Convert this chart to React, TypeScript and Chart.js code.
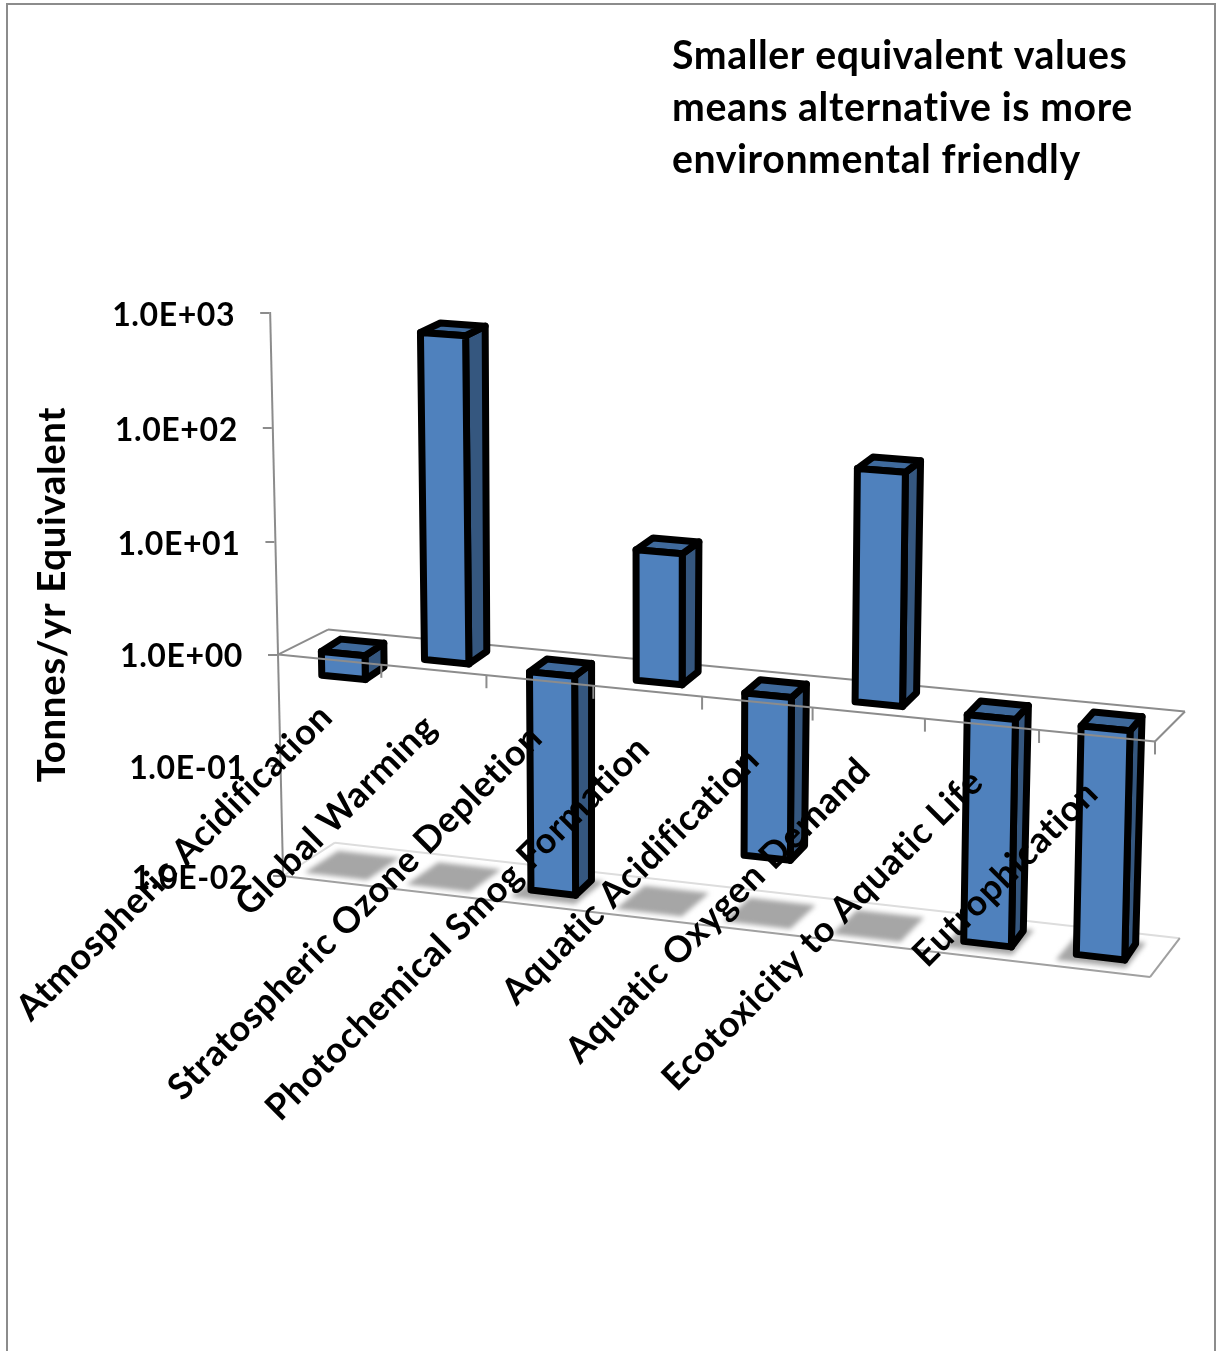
import React, { useEffect, useRef } from "react";
import { Chart, BarController, BarElement, CategoryScale, LogarithmicScale } from "chart.js";

// Impact categories and yearly equivalents, plotted around a baseline of 1.
const categories = [
  "Atmospheric Acidification",
  "Global Warming",
  "Stratospheric Ozone Depletion",
  "Photochemical Smog Formation",
  "Aquatic Acidification",
  "Aquatic Oxygen Demand",
  "Ecotoxicity to Aquatic Life",
  "Eutrophication",
];
const equivalents = [0.6, 750, 0.011, 14, 0.037, 100, 0.0107, 0.0107];
const yTickValues = [0.01, 0.1, 1, 10, 100, 1000];
const yAxisTitle = "Tonnes/yr Equivalent";
const noteLines = [
  "Smaller equivalent values",
  "means alternative is more",
  "environmental friendly",
];

const WIDTH = 1219;
const HEIGHT = 1351;
const AREA = { left: 278, right: 1155, top: 313, bottom: 876 };
const BASE_Y = 654;
const FONT = "Lato, Carlito, sans-serif";

const FACE_FRONT = "#4F81BD";
const FACE_SIDE = "#35577F";
const FACE_TOP = "#3F6A9C";
const AXIS_GREY = "#8C8C8C";

// Horizontal perspective: columns spread out toward the right of the floor.
const warp = (x: number) => x + 7.5e-5 * (x - AREA.left) * (x - AREA.right);

// Maps a scale position (plus a depth fraction into the box) onto the canvas.
function project(x: number, y: number, depth = 0): [number, number] {
  const u = warp(x);
  const t = (u - AREA.left) / (AREA.right - AREA.left);
  const px = u + 5.2e-5 * (720 - u) * (y - BASE_Y);
  const py = y + (u - AREA.left) * (0.099 + 7.3e-5 * (y - BASE_Y));
  const dx = (50 - 20 * t - (y - BASE_Y) * 0.013) * depth;
  const dy = (-25 - 5 * t - (y - BASE_Y) * 0.024) * depth;
  return [px + dx, py + dy];
}

function polygon(ctx: CanvasRenderingContext2D, pts: [number, number][]) {
  ctx.beginPath();
  pts.forEach((p, i) => (i ? ctx.lineTo(p[0], p[1]) : ctx.moveTo(p[0], p[1])));
  ctx.closePath();
}

function line(ctx: CanvasRenderingContext2D, a: [number, number], b: [number, number]) {
  ctx.beginPath();
  ctx.moveTo(a[0], a[1]);
  ctx.lineTo(b[0], b[1]);
  ctx.stroke();
}

// Log axis leaning with the box: slightly compressed toward the bottom.
class SlantLogScale extends LogarithmicScale {
  static id = "slantLog";
  static defaults = LogarithmicScale.defaults;

  getPixelForDecimal(d: number) {
    return super.getPixelForDecimal(d - 0.028 * d * (1 - d));
  }
  withLean(draw: () => void) {
    const ctx = this.ctx;
    ctx.save();
    ctx.transform(1, 0, 0.023, 1, -0.023 * BASE_Y, 0);
    draw();
    ctx.restore();
  }
  drawGrid(area: any) {
    this.withLean(() => super.drawGrid(area));
  }
  drawBorder() {
    this.withLean(() => super.drawBorder());
  }
  _computeLabelArea() {
    return undefined;
  }
  getLabelItems(area?: any) {
    const items: any = super.getLabelItems(area);
    if (!items.leaned) {
      items.forEach((item: any) => {
        const tr = item.options.translation;
        tr[0] += 0.023 * (tr[1] - BASE_Y);
        tr[1] += 2.5;
      });
      items.leaned = true;
    }
    return items;
  }
}

// Category axis whose rotated labels follow the receding front edge.
class SkewCategoryScale extends CategoryScale {
  static id = "skewCategory";
  static defaults = CategoryScale.defaults;

  _computeLabelArea() {
    return undefined;
  }
  getLabelItems(area?: any) {
    const items: any = super.getLabelItems(area);
    if (!items.skewed) {
      items.forEach((item: any) => {
        const tr = item.options.translation;
        const u = warp(tr[0]);
        tr[0] = u - 4;
        tr[1] = 692 + (u - AREA.left) * 0.1;
      });
      items.skewed = true;
    }
    return items;
  }
}

Chart.register(BarController, BarElement, SlantLogScale, SkewCategoryScale);

const FRONT_DEPTH = 0.28;
const BACK_DEPTH = 0.67;
const CAP_LIFT = 2.5;

function drawColumn(ctx: CanvasRenderingContext2D, el: any) {
  const xl = el.x - el.width / 2;
  const xr = el.x + el.width / 2;
  const top = Math.min(el.y, el.base);
  const bottom = Math.max(el.y, el.base);
  const lifted = (p: [number, number]): [number, number] => [p[0], p[1] - CAP_LIFT];
  const fl = (y: number) => project(xl, y, FRONT_DEPTH);
  const fr = (y: number) => project(xr, y, FRONT_DEPTH);
  const bl = (y: number) => lifted(project(xl, y, BACK_DEPTH));
  const br = (y: number) => lifted(project(xr, y, BACK_DEPTH));
  ctx.save();
  ctx.strokeStyle = "#000";
  ctx.lineWidth = 7;
  ctx.lineJoin = "round";
  const faces: [[number, number][], string][] = [
    [[fr(top), br(top), br(bottom), fr(bottom)], FACE_SIDE],
    [[fl(top), bl(top), br(top), fr(top)], FACE_TOP],
    [[fl(top), fr(top), fr(bottom), fl(bottom)], FACE_FRONT],
  ];
  faces.forEach(([pts, fill]) => {
    polygon(ctx, pts);
    ctx.fillStyle = fill;
    ctx.fill();
    ctx.stroke();
  });
  ctx.restore();
}

const boxPlugin = {
  id: "box",
  beforeDraw(chart: any) {
    const ctx = chart.ctx;
    // Slight tracking for every label; it also keeps ligatures from forming.
    ctx.letterSpacing = "0.6px";
    ctx.save();
    ctx.fillStyle = "#fff";
    ctx.fillRect(0, 0, WIDTH, HEIGHT);
    ctx.strokeStyle = AXIS_GREY;
    ctx.lineWidth = 2;
    ctx.strokeRect(7, 4, 1208, 1500);
    ctx.font = `bold 39.2px ${FONT}`;
    ctx.fillStyle = "#000";
    ctx.textBaseline = "alphabetic";
    noteLines.forEach((text, i) => ctx.fillText(text, 672, 69 + i * 52));
    ctx.restore();
  },
  beforeDatasetsDraw(chart: any) {
    const ctx = chart.ctx;
    const { left, right } = chart.chartArea;
    const y = chart.scales.y;
    const floorY = y.getPixelForValue(yTickValues[0]);
    const planeY = y.getPixelForValue(1);
    const floorDepth = 1.1;
    ctx.save();
    // Column shadows on the floor.
    ctx.filter = "blur(2.5px)";
    ctx.fillStyle = "#A6A6A6";
    chart.getDatasetMeta(0).data.forEach((el: any) => {
      const half = (el.width / 2) * 1.45;
      const cx = el.x - 6;
      polygon(ctx, [
        project(cx - half, floorY, 0.16),
        project(cx + half, floorY, 0.16),
        project(cx + half, floorY, 0.88),
        project(cx - half, floorY, 0.88),
      ]);
      ctx.fill();
    });
    ctx.filter = "none";
    // Floor outline.
    ctx.lineWidth = 2;
    ctx.strokeStyle = "#DDDDDD";
    line(ctx, project(left, floorY), project(left, floorY, floorDepth));
    line(ctx, project(left, floorY, floorDepth), project(right, floorY, floorDepth));
    ctx.strokeStyle = "#A0A0A0";
    line(ctx, project(left, floorY), project(right, floorY));
    line(ctx, project(right, floorY), project(right, floorY, floorDepth));
    // Rear and side edges of the plane through 1.0E+00.
    ctx.strokeStyle = AXIS_GREY;
    line(ctx, project(left, planeY), project(left, planeY, 1));
    line(ctx, project(left, planeY, 1), project(right, planeY, 1));
    line(ctx, project(right, planeY), project(right, planeY, 1));
    ctx.restore();
  },
  beforeDatasetDraw(chart: any, args: any) {
    const ctx = chart.ctx;
    args.meta.data.forEach((el: any) => drawColumn(ctx, el));
    return false;
  },
  afterDatasetsDraw(chart: any) {
    // Front edge of the plane and its category tick marks run over the columns.
    const ctx = chart.ctx;
    const { left, right } = chart.chartArea;
    const planeY = chart.scales.y.getPixelForValue(1);
    const step = (right - left) / categories.length;
    ctx.save();
    ctx.strokeStyle = AXIS_GREY;
    ctx.lineWidth = 2;
    line(ctx, project(left, planeY), project(right, planeY));
    for (let i = 1; i <= categories.length; i++) {
      const [px, py] = project(left + i * step, planeY);
      line(ctx, [px, py], [px, py + 13]);
    }
    ctx.restore();
  },
};

export default function App() {
  const ref = useRef<HTMLCanvasElement | null>(null);

  useEffect(() => {
    const chart = new Chart(ref.current as HTMLCanvasElement, {
      type: "bar",
      data: {
        labels: categories,
        datasets: [
          {
            data: equivalents,
            base: 1,
            backgroundColor: FACE_FRONT,
            barPercentage: 0.425,
            categoryPercentage: 1,
          },
        ],
      },
      options: {
        responsive: false,
        animation: false,
        layout: { padding: { top: AREA.top, right: WIDTH - AREA.right, left: 0, bottom: 0 } },
        plugins: { legend: { display: false }, tooltip: { enabled: false } },
        scales: {
          x: {
            type: "skewCategory",
            offset: true,
            grid: { display: false },
            border: { display: false },
            ticks: {
              z: 2,
              autoSkip: false,
              minRotation: 45,
              maxRotation: 45,
              color: "#000",
              font: { family: FONT, size: 36, weight: "bold" },
            },
            afterFit: (s: any) => {
              s.height = HEIGHT - AREA.bottom;
            },
          },
          y: {
            type: "slantLog",
            min: yTickValues[0],
            max: yTickValues[yTickValues.length - 1],
            afterBuildTicks: (s: any) => {
              s.ticks = yTickValues.map((value) => ({ value }));
            },
            afterFit: (s: any) => {
              s.width = AREA.left;
            },
            grid: { drawOnChartArea: false, drawTicks: true, tickLength: 10, color: AXIS_GREY, lineWidth: 2 },
            border: { display: true, color: AXIS_GREY, width: 2 },
            ticks: {
              z: 2,
              padding: 25,
              autoSkip: false,
              color: "#000",
              font: { family: FONT, size: 32, weight: "bold" },
              callback: (v: any) => {
                const [m, e] = Number(v).toExponential(1).split("e");
                const n = Math.abs(Number(e));
                return `${m}E${Number(e) < 0 ? "-" : "+"}${n < 10 ? "0" : ""}${n}`;
              },
            },
            title: {
              display: true,
              text: yAxisTitle,
              color: "#000",
              font: { family: FONT, size: 38.5, weight: "bold" },
              padding: { top: 29, bottom: 0 },
            },
          },
        },
      },
      plugins: [boxPlugin],
    } as any);
    return () => chart.destroy();
  }, []);

  return (
    <canvas
      ref={ref}
      width={WIDTH}
      height={HEIGHT}
      style={{ position: "absolute", left: 0, top: 0, display: "block" }}
    />
  );
}
